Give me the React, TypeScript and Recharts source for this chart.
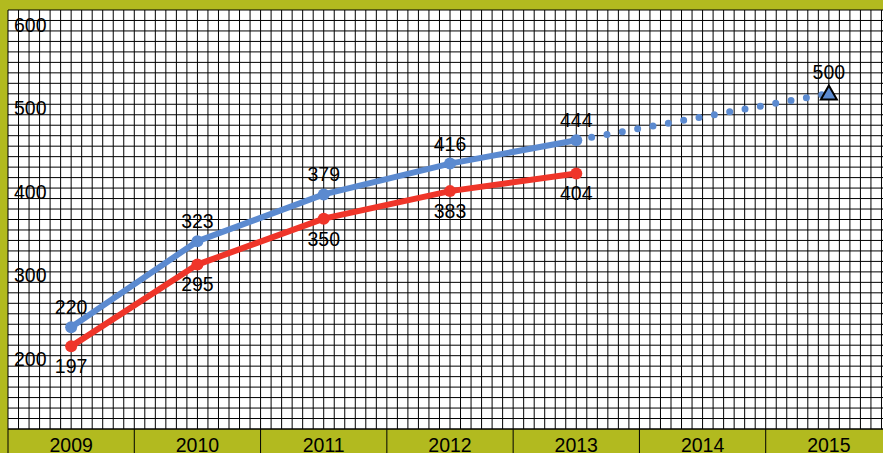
import React from 'react';
import { ComposedChart, Line, XAxis, YAxis, CartesianGrid, LabelList } from 'recharts';

const years = ['2009', '2010', '2011', '2012', '2013', '2014', '2015'];
const upper = [220, 323, 379, 416, 444, null, null];
const lower = [197, 295, 350, 383, 404, null, null];
const forecast = [null, null, null, null, 444, null, 500];
const target = [null, null, null, null, null, null, 500];
const yTicks = [200, 300, 400, 500, 600];

const data = years.map((year, i) => ({
  year,
  upper: upper[i],
  lower: lower[i],
  forecast: forecast[i],
  target: target[i],
}));

const OLIVE = '#b2ba1f';
const BLUE = '#5b8ad0';
const RED = '#ef3529';
const FONT = '"Liberation Sans", Arial, sans-serif';

const CHART_W = 892;
const CHART_H = 453;
const LEFT = 8;
const BAND = (CHART_W - LEFT) / years.length;

function YearTick({ x, y, payload }: any) {
  return (
    <g>
      <line x1={x - BAND / 2} x2={x - BAND / 2} y1={y} y2={y + 24} stroke="#000" strokeWidth={1} />
      <text x={x} y={y + 23} textAnchor="middle" fontSize={19.5} fontFamily={FONT} fill="#000">
        {payload.value}
      </text>
    </g>
  );
}

function ValueTick({ y, payload }: any) {
  return (
    <text x={14} y={y + 15} dy="0.35em" textAnchor="start" fontSize={19.5} fontFamily={FONT} fill="#000">
      {payload.value}
    </text>
  );
}

function TriangleDot({ cx, cy, value }: any) {
  if (value == null || cy == null) return <g />;
  return (
    <polygon
      points={`${cx},${cy - 8} ${cx - 8},${cy + 6} ${cx + 8},${cy + 6}`}
      fill={BLUE}
      stroke="#000"
      strokeWidth={2}
      strokeLinejoin="miter"
    />
  );
}

export default function App() {
  return (
    <div
      style={{
        position: 'absolute',
        left: 0,
        top: 0,
        width: 883,
        height: 453,
        overflow: 'hidden',
        background: OLIVE,
        fontFamily: FONT,
      }}
    >
      <ComposedChart
        width={CHART_W}
        height={CHART_H}
        data={data}
        margin={{ top: 10, right: 0, bottom: 0, left: LEFT - 1 }}
      >
        <CartesianGrid
          stroke="#000"
          strokeWidth={1}
          fill="#fff"
          fillOpacity={1}
          horizontalCoordinatesGenerator={({ offset }: any) =>
            Array.from({ length: 41 }, (_, i) => offset.top + (offset.height * i) / 40)
          }
          verticalCoordinatesGenerator={({ offset }: any) =>
            Array.from({ length: 85 }, (_, i) => offset.left + (offset.width * i) / 84)
          }
        />
        <XAxis
          dataKey="year"
          scale="band"
          height={24}
          interval={0}
          axisLine={{ stroke: '#000', strokeWidth: 1 }}
          tickLine={false}
          tickSize={0}
          tickMargin={0}
          tick={<YearTick />}
        />
        <YAxis
          type="number"
          domain={[98, 600]}
          ticks={yTicks}
          width={1}
          interval={0}
          axisLine={false}
          tickLine={false}
          tick={<ValueTick />}
        />
        <Line
          dataKey="forecast"
          stroke={BLUE}
          strokeWidth={7}
          strokeDasharray="0 15.6"
          strokeLinecap="round"
          connectNulls
          dot={false}
          activeDot={false}
          isAnimationActive={false}
        />
        <Line
          dataKey="lower"
          stroke={RED}
          strokeWidth={6}
          dot={{ r: 6, fill: RED, stroke: 'none' }}
          activeDot={false}
          isAnimationActive={false}
        >
          <LabelList dataKey="lower" position="bottom" offset={13} fontSize={19.5} fill="#000" fontFamily={FONT} />
        </Line>
        <Line
          dataKey="upper"
          stroke={BLUE}
          strokeWidth={6}
          dot={{ r: 6, fill: BLUE, stroke: 'none' }}
          activeDot={false}
          isAnimationActive={false}
        >
          <LabelList dataKey="upper" position="top" offset={13} fontSize={19.5} fill="#000" fontFamily={FONT} />
        </Line>
        <Line
          dataKey="target"
          stroke="none"
          dot={<TriangleDot />}
          activeDot={false}
          isAnimationActive={false}
        >
          <LabelList dataKey="target" position="top" offset={14} fontSize={19.5} fill="#000" fontFamily={FONT} />
        </Line>
      </ComposedChart>
    </div>
  );
}
